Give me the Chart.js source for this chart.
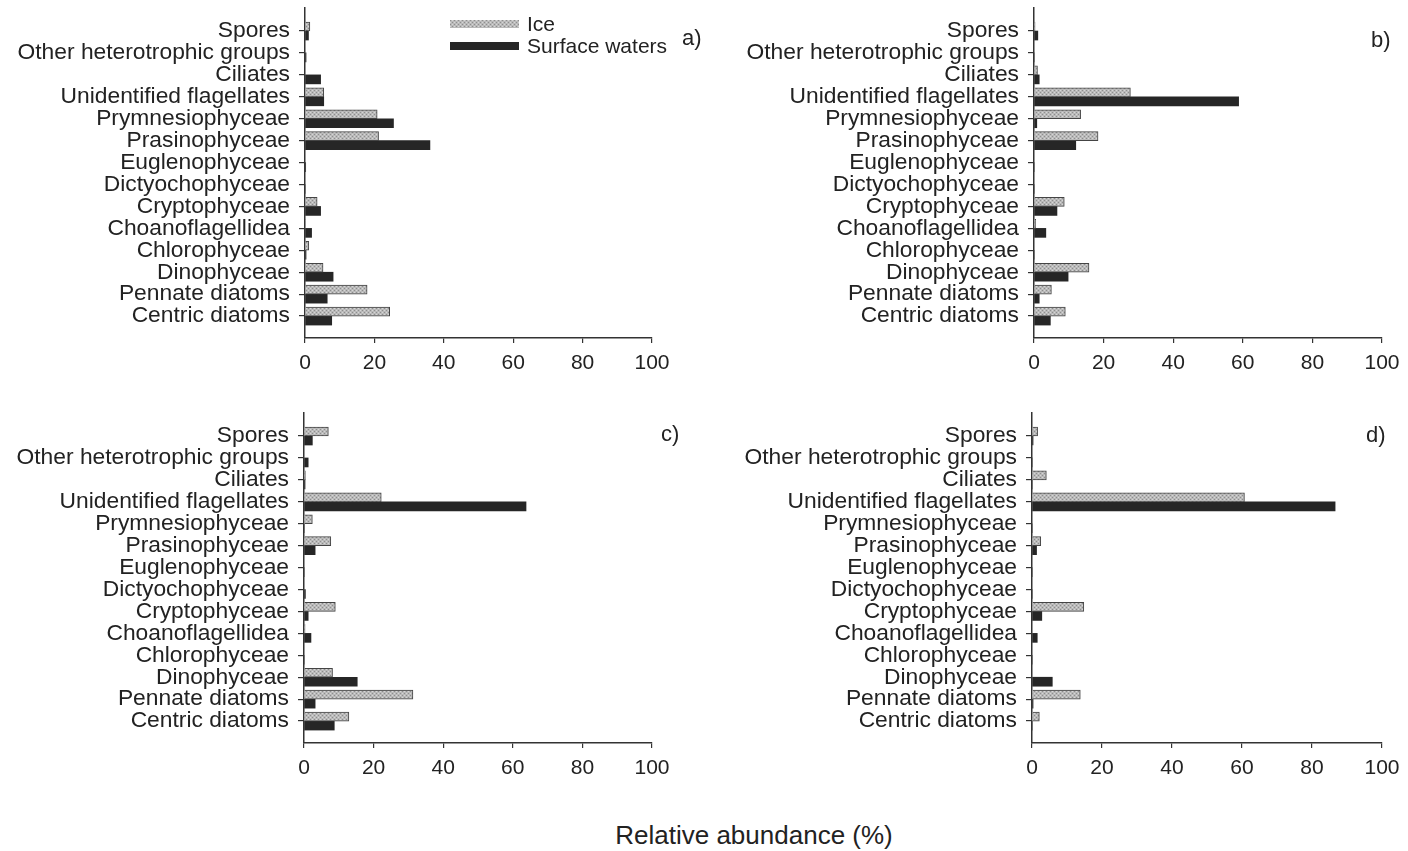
<!DOCTYPE html>
<html>
<head>
<meta charset="utf-8">
<script src="https://cdn.jsdelivr.net/npm/chart.js@4.4.1/dist/chart.umd.min.js"></script>
<style>
  body { margin: 0; background: #fff; width: 1408px; height: 851px; position: relative; overflow: hidden; font-family: 'Liberation Sans', Arial, sans-serif; color: #222; }
  canvas { position: absolute; }
  .tag { position: absolute; font-size: 22px; line-height: 1; }
  .legend { position: absolute; left: 450px; top: 13px; font-size: 21px; }
  .legend div { height: 22px; display: flex; align-items: center; }
  .swatch { display: inline-block; width: 69px; height: 8px; margin-right: 8px; }
  #xtitle { position: absolute; left: 0; width: 1508px; top: 820px; text-align: center; font-size: 26px; }
</style>
</head>
<body>
<canvas id="panel-a" width="704" height="400" style="left:0;top:0"></canvas>
<canvas id="panel-b" width="704" height="400" style="left:704px;top:0"></canvas>
<canvas id="panel-c" width="704" height="400" style="left:0;top:405px"></canvas>
<canvas id="panel-d" width="704" height="400" style="left:704px;top:405px"></canvas>

<div class="legend">
  <div><span class="swatch" id="ice-swatch"></span>Ice</div>
  <div><span class="swatch" style="background:#262626"></span>Surface waters</div>
</div>
<div class="tag" style="left:682px;top:27px">a)</div>
<div class="tag" style="left:1371px;top:29px">b)</div>
<div class="tag" style="left:661px;top:423px">c)</div>
<div class="tag" style="left:1366px;top:424px">d)</div>
<div id="xtitle">Relative abundance (%)</div>

<script>
// ============================================
// Data (% relative abundance)
// ============================================
const categories = [
    'Spores', 'Other heterotrophic groups', 'Ciliates', 'Unidentified flagellates',
    'Prymnesiophyceae', 'Prasinophyceae', 'Euglenophyceae', 'Dictyochophyceae',
    'Cryptophyceae', 'Choanoflagellidea', 'Chlorophyceae', 'Dinophyceae',
    'Pennate diatoms', 'Centric diatoms'
];
const xTicks = [0, 20, 40, 60, 80, 100];

const iceA = [1.4, 0, 0, 5.4, 20.8, 21.2, 0, 0, 3.5, 0.2, 1.1, 5.2, 17.9, 24.4];
const surfaceA = [1.0, 0.3, 4.5, 5.4, 25.5, 36.0, 0.2, 0, 4.5, 1.9, 0.3, 8.1, 6.4, 7.7];

const iceB = [0.3, 0, 1.0, 27.7, 13.4, 18.4, 0, 0, 8.7, 0.5, 0, 15.8, 5.0, 9.0];
const surfaceB = [1.1, 0, 1.5, 58.8, 0.8, 12.0, 0, 0, 6.6, 3.4, 0, 9.8, 1.5, 4.7];

const iceC = [7.0, 0, 0.4, 22.2, 2.4, 7.7, 0, 0, 9.0, 0.3, 0, 8.2, 31.3, 12.9];
const surfaceC = [2.4, 1.2, 0.3, 63.8, 0, 3.2, 0, 0.4, 1.2, 2.0, 0, 15.3, 3.2, 8.7];

const iceD = [1.6, 0, 4.1, 60.7, 0, 2.5, 0, 0, 14.8, 0, 0, 0, 13.8, 2.1];
const surfaceD = [0.3, 0, 0, 86.6, 0, 1.3, 0, 0, 2.8, 1.5, 0, 5.8, 0.3, 0];

// ============================================
// Styling helpers
// ============================================
Chart.defaults.font.family = "'Liberation Sans', Arial, sans-serif";
Chart.defaults.color = '#222';

// Small stipple pattern for the "Ice" bars
function makeStipple() {
    const c = document.createElement('canvas');
    c.width = 4; c.height = 4;
    const ctx = c.getContext('2d');
    ctx.fillStyle = '#b9b9b9';
    ctx.fillRect(0, 0, 4, 4);
    ctx.fillStyle = '#8e8e8e';
    ctx.fillRect(0, 0, 1, 1);
    ctx.fillRect(2, 2, 1, 1);
    ctx.fillStyle = '#d6d6d6';
    ctx.fillRect(2, 0, 1, 1);
    ctx.fillRect(0, 2, 1, 1);
    return c;
}
const stipple = makeStipple();
const icePattern = document.createElement('canvas').getContext('2d').createPattern(stipple, 'repeat');
document.getElementById('ice-swatch').style.background = `url(${stipple.toDataURL()})`;

// ============================================
// Panel builder
// ============================================
function drawPanel(id, ice, surface, geo) {
    const toPoints = arr => arr.map((v, i) => ({ x: v, y: i }));
    return new Chart(document.getElementById(id), {
        type: 'bar',
        data: {
            datasets: [
                { label: 'Ice', data: toPoints(ice), backgroundColor: icePattern, borderColor: '#444', borderWidth: 1, barThickness: 9 },
                { label: 'Surface waters', data: toPoints(surface), backgroundColor: '#262626', borderWidth: 0, barThickness: 9 }
            ]
        },
        options: {
            indexAxis: 'y',
            responsive: false,
            animation: false,
            devicePixelRatio: 1,
            layout: { padding: { top: 8, right: geo.padRight, left: 0, bottom: 0 } },
            plugins: { legend: { display: false }, tooltip: { enabled: false } },
            scales: {
                y: {
                    type: 'linear',
                    reverse: true,
                    offset: false,
                    min: -1.05,
                    max: 14,
                    afterBuildTicks: scale => { scale.ticks = categories.map((c, i) => ({ value: i })); },
                    afterFit: scale => {
                        scale.width = geo.yWidth;
                        scale.paddingTop = 0;
                        scale.paddingBottom = 0;
                    },
                    // tiny lineHeight keeps the label padding from squeezing the axis
                    ticks: { callback: v => categories[v], autoSkip: false, font: { size: 22.8, lineHeight: 0.2 }, padding: 9, color: '#222' },
                    grid: { offset: false, drawOnChartArea: false, tickLength: 6, color: '#333', lineWidth: 1.2 },
                    border: { color: '#333', width: 1.5 }
                },
                x: {
                    type: 'linear',
                    min: 0,
                    max: 100,
                    afterBuildTicks: scale => { scale.ticks = xTicks.map(v => ({ value: v })); },
                    afterFit: scale => { scale.height = 62; },
                    ticks: { font: { size: 21 }, padding: 8, color: '#222' },
                    grid: { drawOnChartArea: false, tickLength: 5, color: '#333', lineWidth: 1.2 },
                    border: { color: '#333', width: 1.5 }
                }
            }
        }
    });
}

// ============================================
// Initialization
// ============================================
drawPanel('panel-a', iceA, surfaceA, { yWidth: 305, padRight: 704 - 652 });
drawPanel('panel-b', iceB, surfaceB, { yWidth: 330, padRight: 704 - 678 });
drawPanel('panel-c', iceC, surfaceC, { yWidth: 304, padRight: 704 - 652 });
drawPanel('panel-d', iceD, surfaceD, { yWidth: 328, padRight: 704 - 678 });
</script>
</body>
</html>
